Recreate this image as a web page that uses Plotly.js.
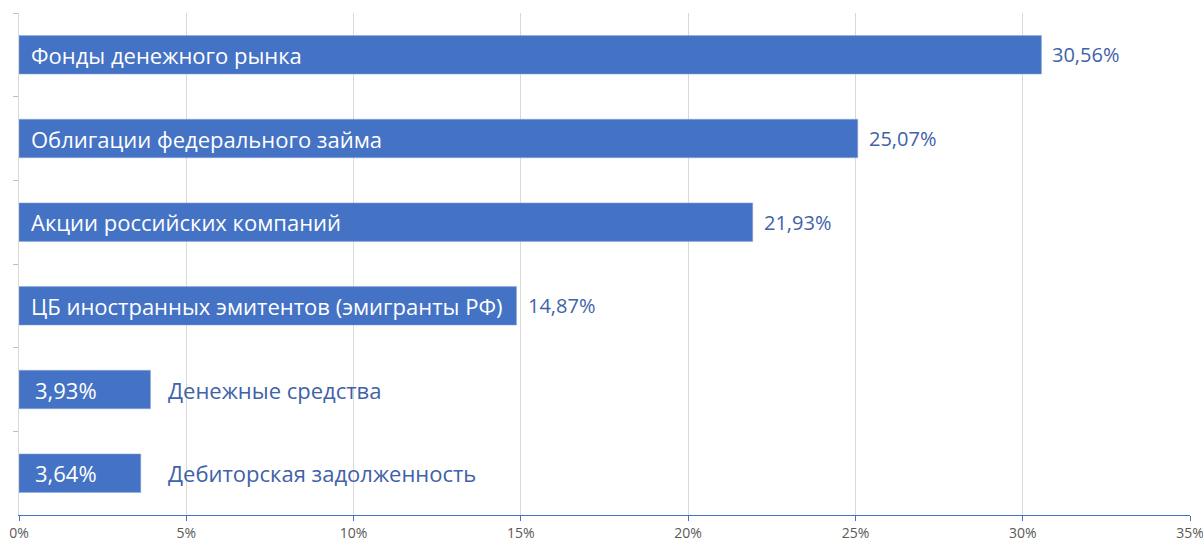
<!DOCTYPE html>
<html>
<head>
<meta charset="utf-8">
<script src="https://cdn.plot.ly/plotly-3.0.1.min.js"></script>
<style>html,body{margin:0;padding:0;background:#fff;}#chart{width:1203px;height:543px;}</style>
</head>
<body>
<div id="chart"></div>
<script>
const categories = [
  "Фонды денежного рынка",
  "Облигации федерального займа",
  "Акции российских компаний",
  "ЦБ иностранных эмитентов (эмигранты РФ)",
  "Денежные средства",
  "Дебиторская задолженность"
];
const values = [30.56, 25.07, 21.93, 14.87, 3.93, 3.64];
const tickVals = [0, 5, 10, 15, 20, 25, 30, 35];
const tickText = ["0%", "5%", "10%", "15%", "20%", "25%", "30%", "35%"];

const barColor = "#4472c4";
const outColor = "#3f62a8";
const fontFam = "'Open Sans', 'Noto Sans', sans-serif";

const fmt = v => v.toFixed(2).replace('.', ',') + '%';
const wide = values.map(v => v >= 10);
const smallMax = Math.max(...values.filter((v, i) => !wide[i]));

const annotations = [];
categories.forEach((c, i) => {
  const v = values[i];
  if (wide[i]) {
    annotations.push({x: 0, y: c, xref: 'x', yref: 'y', text: c, showarrow: false,
      xanchor: 'left', yanchor: 'middle', xshift: 10,
      font: {family: fontFam, size: 22, color: '#ffffff'}});
    annotations.push({x: v, y: c, xref: 'x', yref: 'y', text: fmt(v), showarrow: false,
      xanchor: 'left', yanchor: 'middle', xshift: 9,
      font: {family: fontFam, size: 20, color: outColor}});
  } else {
    annotations.push({x: 0, y: c, xref: 'x', yref: 'y', text: fmt(v), showarrow: false,
      xanchor: 'left', yanchor: 'middle', xshift: 14,
      font: {family: fontFam, size: 22, color: '#ffffff'}});
    annotations.push({x: smallMax, y: c, xref: 'x', yref: 'y', text: c, showarrow: false,
      xanchor: 'left', yanchor: 'middle', xshift: 16,
      font: {family: fontFam, size: 22, color: outColor}});
  }
});

const trace = {
  type: 'bar', orientation: 'h',
  x: values, y: categories,
  marker: {color: barColor, line: {color: '#8eaadc', width: 0.5}},
  hoverinfo: 'x+y'
};

const layout = {
  width: 1203, height: 543,
  margin: {l: 19, r: 13, t: 13, b: 28},
  paper_bgcolor: '#ffffff', plot_bgcolor: '#ffffff',
  bargap: 0.54,
  showlegend: false,
  font: {family: fontFam},
  xaxis: {
    range: [0, 35], tickvals: tickVals, ticktext: tickText,
    showgrid: true, gridcolor: '#d9d9d9', gridwidth: 1,
    zeroline: false,
    showline: true, linecolor: barColor, linewidth: 1,
    ticks: 'outside', ticklen: 5, tickcolor: barColor,
    ticklabeloverflow: 'allow',
    tickfont: {family: fontFam, size: 14, color: '#595959'}
  },
  yaxis: {
    type: 'category', categoryorder: 'array', categoryarray: categories,
    autorange: 'reversed',
    showticklabels: false, showgrid: false, zeroline: false,
    showline: true, linecolor: '#d9d9d9', linewidth: 1,
    ticks: 'outside', ticklen: 5, tickcolor: '#bfbfbf', tickson: 'boundaries'
  },
  annotations: annotations
};

Plotly.newPlot('chart', [trace], layout, {displayModeBar: false, staticPlot: true});
</script>
</body>
</html>
